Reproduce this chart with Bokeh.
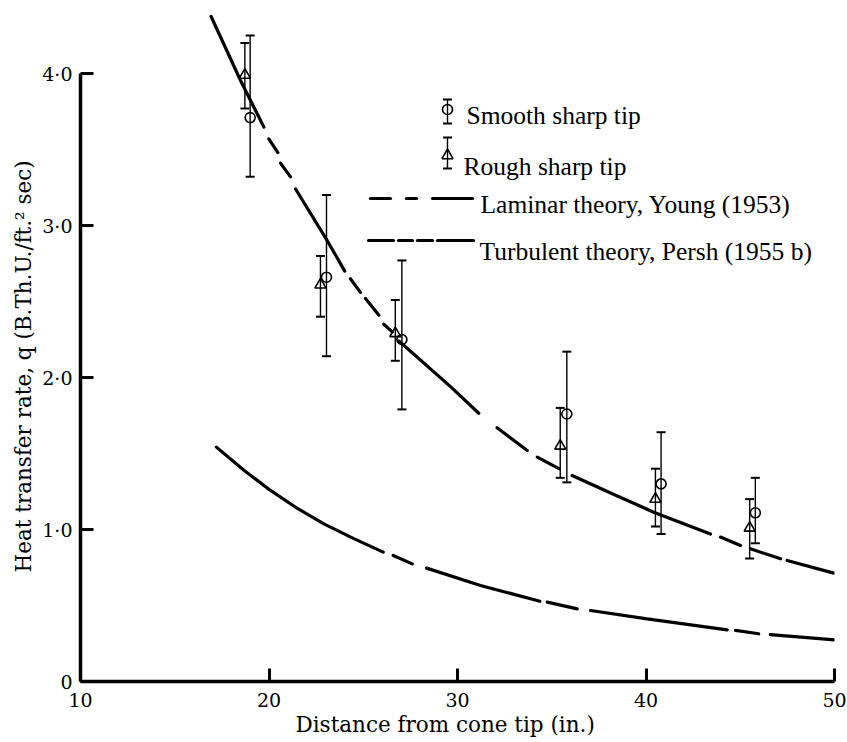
import numpy as np
from bokeh.plotting import figure
from bokeh.models import ColumnDataSource, Whisker, TeeHead, FixedTicker, CustomJSTickFormatter, Title
from bokeh.core.properties import value
from bokeh.embed import file_html
from bokeh.resources import INLINE

nan = float("nan")

# ---------------- data ----------------
smooth_x = [19.0, 23.05, 27.05, 35.8, 40.8, 45.8]
smooth_y = [3.71, 2.66, 2.25, 1.76, 1.30, 1.11]
smooth_hi = [4.25, 3.20, 2.77, 2.17, 1.64, 1.34]
smooth_lo = [3.32, 2.14, 1.79, 1.31, 0.97, 0.91]

rough_x = [18.72, 22.73, 26.7, 35.45, 40.5, 45.5]
rough_y = [3.99, 2.61, 2.29, 1.55, 1.20, 1.01]
rough_hi = [4.20, 2.80, 2.51, 1.80, 1.40, 1.20]
rough_lo = [3.77, 2.40, 2.11, 1.34, 1.02, 0.81]

# laminar theory (Young 1953); nan marks the gaps of the dashed stretches
laminar_x = [16.93, 18.49, 19.73, nan, 19.99, 20.47, nan, 20.61, 21.14, nan,
             21.41, 23.09, 24.02, nan, 24.32, 24.85, nan, 25.12, 25.83, nan,
             26.09, 26.54, nan, 26.89, 29.63, 31.13, nan, 32.1, 33.7, nan,
             34.23, 35.38, nan, 36.08, 38.3, 40.41, 43.42, nan, 43.95, 45.01, nan,
             45.54, 47.14, nan, 47.49, 49.96]
laminar_y = [4.375, 3.954, 3.647, nan, 3.57, 3.48, nan, 3.41, 3.32, nan,
             3.24, 2.90, 2.70, nan, 2.65, 2.56, nan, 2.52, 2.41, nan,
             2.35, 2.30, nan, 2.24, 1.94, 1.765, nan, 1.67, 1.52, nan,
             1.476, 1.40, nan, 1.355, 1.23, 1.114, 0.97, nan, 0.95, 0.895, nan,
             0.873, 0.807, nan, 0.796, 0.713]

# turbulent theory (Persh 1955 b)
turb_x = [17.21, 18.67, 20.08, 21.49, 22.91, 24.5, 26.06, nan, 26.59, 27.6, nan,
          28.36, 31.22, 34.37, nan, 34.76, 36.35, nan, 37.06, 40.06, 44.31, nan,
          44.75, 45.98, nan, 46.6, 50.0]
turb_y = [1.542, 1.39, 1.257, 1.14, 1.037, 0.94, 0.851, nan, 0.829, 0.774, nan,
          0.746, 0.632, 0.528, nan, 0.522, 0.478, nan, 0.467, 0.412, 0.340, nan,
          0.336, 0.314, nan, 0.309, 0.274]

x_ticks = [10, 20, 30, 40, 50]
y_ticks = [0, 1, 2, 3, 4]

x_title = "Distance from cone tip (in.)"
y_title = "Heat transfer rate, q (B.Th.U./ft.\u00b2 sec)"
legend_labels = ["Smooth sharp tip", "Rough sharp tip",
                 "Laminar theory, Young (1953)", "Turbulent theory, Persh (1955 b)"]

# ---------------- layout ----------------
W, H = 847, 742
FL, FR, FT, FB = 80, 834, 10, 681      # frame edges in page pixels
X0, X1 = 10, 50
YPX = 152.0                              # pixels per y unit
Y1 = (FB - FT) / YPX


def xd(px):
    return X0 + (px - FL) * (X1 - X0) / (FR - FL)


def yd(py):
    return (FB - py) / YPX


p = figure(width=W, height=H, x_range=(X0, X1), y_range=(0, Y1),
           output_backend="svg", toolbar_location=None,
           min_border_left=FL, min_border_right=W - FR,
           min_border_top=FT, min_border_bottom=H - FB)
p.grid.visible = False
p.outline_line_color = None
p.background_fill_color = "white"
p.border_fill_color = "white"

AX_FONT = "DejaVu Serif"
for ax in (p.xaxis[0], p.yaxis[0]):
    ax.axis_line_width = 3.5
    ax.axis_line_color = "black"
    ax.major_tick_in = 13
    ax.major_tick_out = 0
    ax.major_tick_line_width = 3
    ax.major_tick_line_color = "black"
    ax.minor_tick_line_color = None
    ax.major_label_text_font = AX_FONT
    ax.major_label_text_font_size = "19px"
    ax.major_label_text_color = "black"

p.xaxis.ticker = FixedTicker(ticks=x_ticks)
p.xaxis.bounds = (x_ticks[0], x_ticks[-1])
p.xaxis.major_label_standoff = 11

p.yaxis.ticker = FixedTicker(ticks=y_ticks)
p.yaxis.bounds = (y_ticks[0], y_ticks[-1])
p.yaxis.major_label_standoff = 8
p.yaxis.formatter = CustomJSTickFormatter(
    code="return tick == 0 ? '0' : tick.toFixed(1).replace('.', '\u00b7');")

# axis titles as side titles, so they can be shifted along the axis
p.add_layout(Title(text=x_title, align="left", offset=215, standoff=0,
                   text_font=AX_FONT, text_font_size="21.5px",
                   text_font_style="normal", text_color="#000000"), "below")
p.add_layout(Title(text=y_title, align="left", offset=109, standoff=8,
                   text_font=AX_FONT, text_font_size="21.5px",
                   text_font_style="normal", text_color="#000000"), "left")

# ---------------- theory curves ----------------
p.line(np.array(laminar_x), np.array(laminar_y), line_color="black",
       line_width=3.2, line_cap="round")
p.line(np.array(turb_x), np.array(turb_y), line_color="black",
       line_width=3.2, line_cap="round")

# ---------------- error bars and points ----------------
def add_errorbars(xs, lo, hi):
    src = ColumnDataSource(dict(x=xs, lo=lo, hi=hi))
    w = Whisker(base="x", lower="lo", upper="hi", source=src, dimension="height",
                line_color="black", line_width=1.4,
                lower_head=TeeHead(size=9, line_width=2, line_color="black"),
                upper_head=TeeHead(size=9, line_width=2, line_color="black"))
    p.add_layout(w)

add_errorbars(smooth_x, smooth_lo, smooth_hi)
add_errorbars(rough_x, rough_lo, rough_hi)

p.scatter(smooth_x, smooth_y, marker="circle", size=10, fill_color=None,
          line_color="black", line_width=1.6)
p.scatter(rough_x, rough_y, marker="triangle", size=11, fill_color=None,
          line_color="black", line_width=1.6)

# ---------------- legend (hand-built, page-pixel placement) ----------------
add_errorbars([xd(447)], [yd(123)], [yd(99)])
add_errorbars([xd(447)], [yd(168)], [yd(137)])
p.scatter([xd(447)], [yd(109)], marker="circle", size=10, fill_color=None,
          line_color="black", line_width=1.6)
p.scatter([xd(447)], [yd(155)], marker="triangle", size=11, fill_color=None,
          line_color="black", line_width=1.6)

lam_key = [(370, 390), (406, 416), (432, 472)]
turb_key = [(368, 393), (398, 412), (417, 432), (437, 473)]
p.segment(x0=[xd(a) for a, b in lam_key], x1=[xd(b) for a, b in lam_key],
          y0=[yd(198)] * len(lam_key), y1=[yd(198)] * len(lam_key),
          line_color="black", line_width=3.2, line_cap="round")
p.segment(x0=[xd(a) for a, b in turb_key], x1=[xd(b) for a, b in turb_key],
          y0=[yd(240)] * len(turb_key), y1=[yd(240)] * len(turb_key),
          line_color="black", line_width=3.2, line_cap="round")

p.text(x=[xd(466), xd(463), xd(480), xd(479)],
       y=[yd(115), yd(165.5), yd(203.5), yd(251)],
       text=legend_labels,
       text_font=value("Liberation Serif"), text_font_size=value("25.5px"),
       text_baseline="alphabetic", text_align="left", text_color="black")

open("out.html", "w").write(file_html(p, INLINE))
